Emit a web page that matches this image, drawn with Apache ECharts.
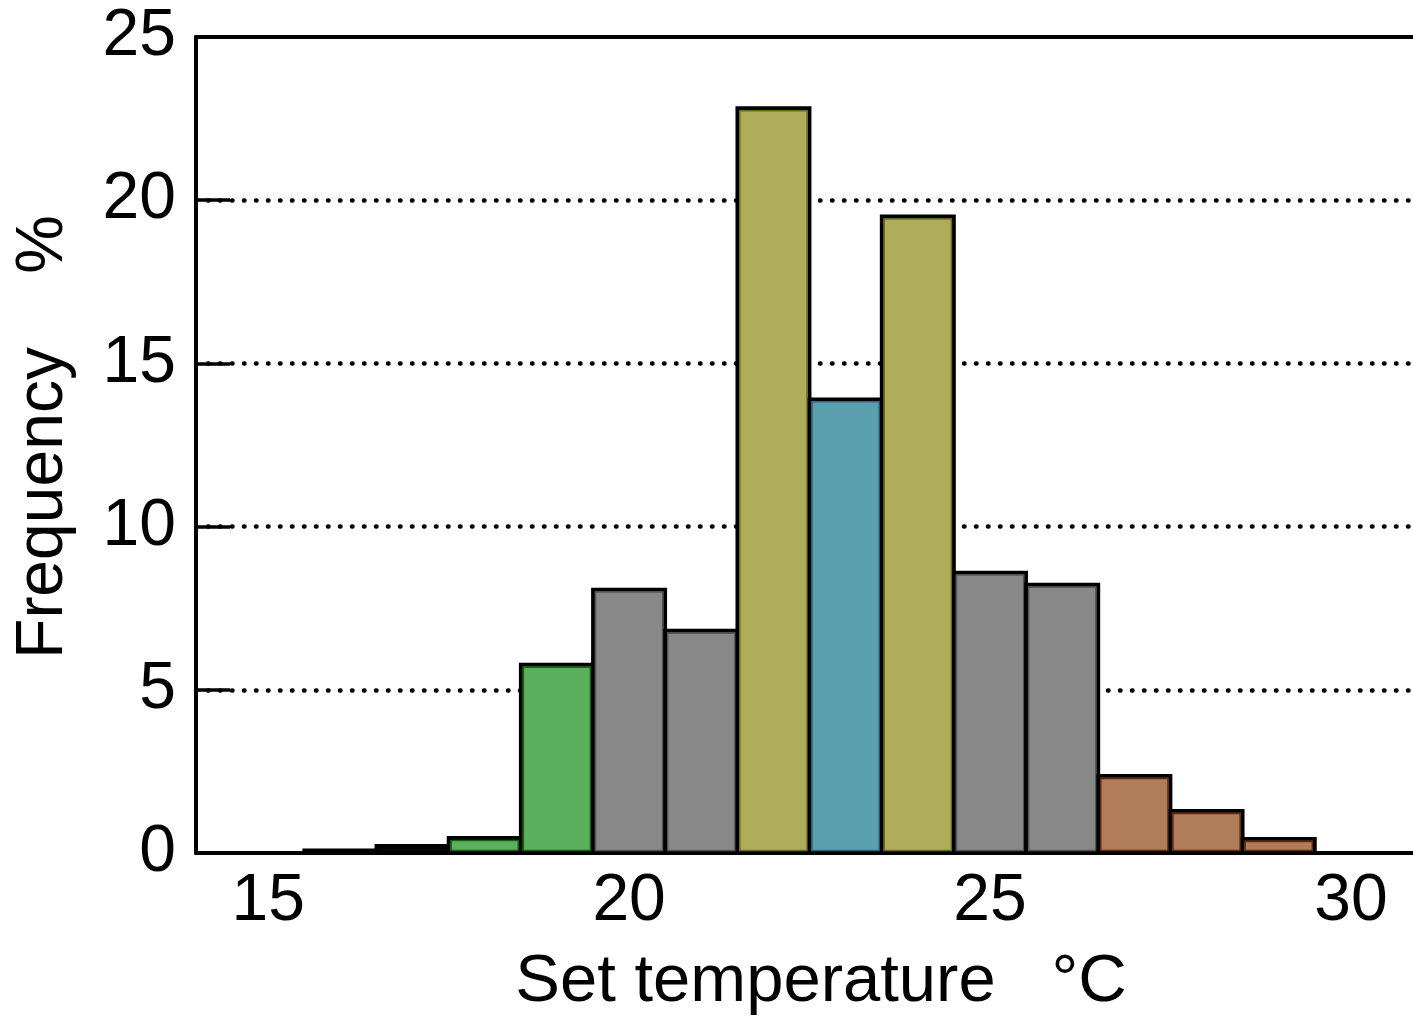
<!DOCTYPE html>
<html>
<head>
<meta charset="utf-8">
<script src="https://cdn.jsdelivr.net/npm/echarts@6/dist/echarts.min.js"></script>
<style>
html,body{margin:0;padding:0;background:#fff;}
#c{width:1413px;height:1020px;}
</style>
</head>
<body>
<div id="c"></div>
<script>
// Data
const temps = [16, 17, 18, 19, 20, 21, 22, 23, 24, 25, 26, 27, 28, 29];
const freq = [0.08, 0.22, 0.46, 5.77, 8.07, 6.81, 22.82, 13.9, 19.5, 8.59, 8.22, 2.36, 1.29, 0.43];
const groups = ['dark', 'dark', 'green', 'green', 'gray', 'gray', 'olive', 'teal', 'olive', 'gray', 'gray', 'brown', 'brown', 'brown'];
const xLabelValues = [15, 20, 25, 30];
const xTitle = 'Set temperature   \u00B0C';
const yTitle = 'Frequency    %';

const fills = {dark: '#111111', gray: '#888888', green: '#5caf5c', olive: '#adad5a', teal: '#5b9fae', brown: '#b07c5a'};
const darks = {dark: '#000000', gray: '#555555', green: '#145f14', olive: '#6b6b1e', teal: '#2a6a78', brown: '#5e2b0c'};
const FONT = '"Liberation Sans", Arial, Helvetica, sans-serif';

const chart = echarts.init(document.getElementById('c'), null, {renderer: 'canvas'});
const data = temps.map((t, i) => [t, freq[i], i]);

const xMin = 14, xMax = 30.86;

chart.setOption({
  animation: false,
  backgroundColor: '#fff',
  grid: {left: 196, right: 0, top: 37, bottom: 167, show: false},
  xAxis: [{
    type: 'value', min: xMin, max: xMax, interval: 1,
    axisLine: {show: true, onZero: false, lineStyle: {color: '#000', width: 4}},
    axisTick: {show: false},
    splitLine: {show: false},
    axisLabel: {
      color: '#000', fontSize: 66, fontFamily: FONT, margin: 16,
      showMaxLabel: false,
      formatter: v => xLabelValues.indexOf(v) >= 0 ? String(v) : ''
    }
  }, {
    type: 'value', position: 'top', min: xMin, max: xMax, interval: 1,
    axisLine: {show: true, onZero: false, lineStyle: {color: '#000', width: 4}},
    axisTick: {show: false}, splitLine: {show: false}, axisLabel: {show: false}
  }],
  yAxis: {
    type: 'value', min: 0, max: 25, interval: 5,
    axisLine: {show: true, lineStyle: {color: '#000', width: 4}},
    axisTick: {show: true, inside: true, length: 34, lineStyle: {color: '#000', width: 3.5}},
    splitLine: {show: true, showMinLine: false, showMaxLine: false,
      lineStyle: {color: '#000', width: 4.5, type: [0.5, 11.5], cap: 'round'}},
    axisLabel: {color: '#000', fontSize: 66, fontFamily: FONT, margin: 20}
  },
  graphic: [
    {type: 'text', x: 821, y: 983, z: 10,
     style: {text: xTitle, fontSize: 67, fontFamily: FONT, fill: '#000', textAlign: 'center', textVerticalAlign: 'middle'}},
    {type: 'text', x: 44, y: 437, rotation: Math.PI / 2, z: 10,
     style: {text: yTitle, fontSize: 66, fontFamily: FONT, fill: '#000', textAlign: 'center', textVerticalAlign: 'middle'}}
  ],
  series: [{
    type: 'custom',
    data: data,
    encode: {x: 0, y: 1},
    renderItem: function (params, api) {
      const x = api.value(0), y = api.value(1), idx = api.value(2);
      const g = groups[idx];
      const p0 = api.coord([x - 0.5, y]);
      const p1 = api.coord([x + 0.5, 0]);
      const w = p1[0] - p0[0], h = p1[1] - p0[1];
      const ins = 2.5;
      const children = [{
        type: 'rect',
        shape: {x: p0[0], y: p0[1], width: w, height: h},
        style: {fill: fills[g], stroke: '#000', lineWidth: 3.8, lineJoin: 'miter'}
      }];
      if (h > 2 * ins + 1) {
        children.push({
          type: 'rect',
          shape: {x: p0[0] + ins, y: p0[1] + ins, width: w - 2 * ins, height: h - 2 * ins},
          style: {fill: 'none', stroke: darks[g], lineWidth: 1.5}
        });
      }
      return {type: 'group', children: children};
    }
  }]
});
</script>
</body>
</html>
